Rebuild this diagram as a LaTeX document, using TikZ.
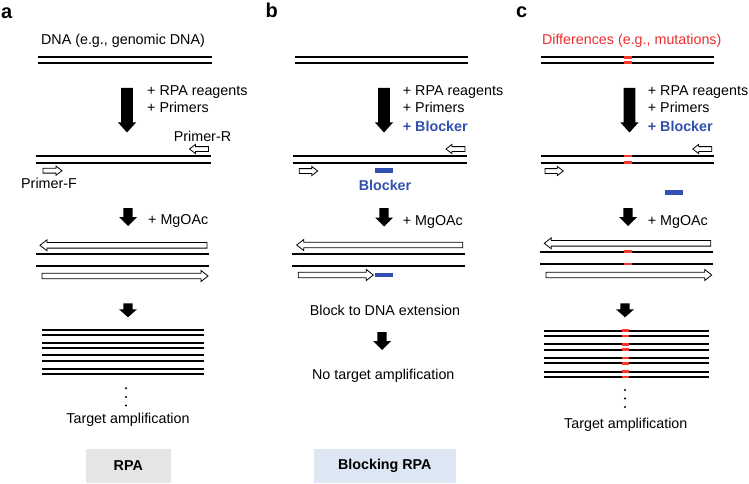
\documentclass[tikz,border=0pt]{standalone}
\usepackage{fontspec}
\setmainfont{Liberation Sans}
\definecolor{blockblue}{RGB}{50,80,176}
\definecolor{mutred}{RGB}{250,55,45}
\definecolor{txtred}{RGB}{236,45,45}
\definecolor{rpagray}{RGB}{229,229,229}
\definecolor{bluebox}{RGB}{220,231,243}
\newcommand{\myDnaPair}[4]{\draw[dna] (#1,#3) -- (#2,#3); \draw[dna] (#1,#4) -- (#2,#4);}
\newcommand{\myMut}[3]{\draw[mut] (#1,#3) -- (#2,#3);}
\newcommand{\myFatDown}[6]{\fill[black] (#1-#4,#2) -- (#1+#4,#2) -- (#1+#4,#3-#6) -- (#1+#5,#3-#6) -- (#1,#3) -- (#1-#5,#3-#6) -- (#1-#4,#3-#6) -- cycle;}
\newcommand{\myOpenR}[6]{\draw[openarr] (#1,#3-#4) -- (#2-#6,#3-#4) -- (#2-#6,#3-#5) -- (#2,#3) -- (#2-#6,#3+#5) -- (#2-#6,#3+#4) -- (#1,#3+#4) -- cycle;}
\newcommand{\myOpenL}[6]{\draw[openarr] (#2,#3-#4) -- (#1+#6,#3-#4) -- (#1+#6,#3-#5) -- (#1,#3) -- (#1+#6,#3+#5) -- (#1+#6,#3+#4) -- (#2,#3+#4) -- cycle;}
\begin{document}
\begin{tikzpicture}[x=1pt,y=-1pt,
  every node/.style={inner sep=0pt, font=\fontsize{14.3}{16}\selectfont},
  dna/.style={line width=2pt, black},
  mut/.style={line width=2.6pt, mutred},
  openarr/.style={draw=black, fill=white, line width=0.8pt, line join=miter},
  panellabel/.style={font=\fontsize{20}{22}\selectfont\bfseries, anchor=base west},
  steptext/.style={anchor=base west},
  bluebold/.style={text=blockblue, font=\fontsize{14.3}{16}\selectfont\bfseries},
  blockbar/.style={fill=blockblue, draw=none},
  methodbox/.style={draw=none, minimum height=34pt, font=\fontsize{14.3}{16}\selectfont\bfseries}]
\useasboundingbox (0,0) rectangle (749,484);

% ---------------- panel a ----------------
\node[panellabel] (la) at (1,18.5) {a};
\node[anchor=base] (dnaA) at (123,45) {DNA (e.g., genomic DNA)};
\myDnaPair{38}{212}{57.3}{62.7}
\myFatDown{127}{88}{132.5}{5.8}{9}{10}
\node[steptext] (a1) at (147,95.7) {+ RPA reagents};
\node[steptext] (a2) at (147,112.7) {+ Primers};
\node[anchor=base] (primR) at (202.5,141) {Primer-R};
\myOpenL{189.5}{208.5}{149}{2.4}{4.6}{6}
\myDnaPair{36}{210.7}{156}{162.7}
\myOpenR{43}{62}{170.7}{2.4}{4.6}{6}
\node[anchor=base] (primF) at (49,188) {Primer-F};
\myFatDown{128}{208}{226}{4.6}{9}{9}
\node[steptext] (a3) at (148,224) {+ MgOAc};
\myOpenL{40}{207}{245.3}{2.8}{5.5}{7}
\myDnaPair{36}{209}{254}{266}
\myOpenR{42}{208}{276}{2.8}{5.5}{7}
\myFatDown{128}{303.3}{317.3}{4.6}{9}{8}
\foreach \yy in {330,342.7,355.3,368.7}{\myDnaPair{41.7}{204}{\yy}{\yy+5.3}}
\foreach \yy in {388.3,396.9,405.5}{\fill (126,\yy) circle (1.1);}
\node[anchor=base] (ampA) at (128,423.5) {Target amplification};
\node[methodbox, fill=rpagray, minimum width=84.7pt] (rpa) at (128.3,465.5) {RPA};

% ---------------- panel b ----------------
\node[panellabel] (lb) at (265.5,17.5) {b};
\myDnaPair{295}{468.3}{57.3}{62.7}
\myFatDown{384}{88}{132.5}{5.8}{9}{10}
\node[steptext] (b1) at (402.7,95.7) {+ RPA reagents};
\node[steptext] (b2) at (402.7,112.7) {+ Primers};
\node[steptext, bluebold] (b3) at (402.7,131.5) {+ Blocker};
\myOpenL{446}{465}{149}{2.4}{4.6}{6}
\myDnaPair{292.7}{466.7}{156}{162.7}
\myOpenR{299.3}{317.7}{171}{2.4}{4.6}{6}
\fill[blockbar] (375,168.3) rectangle (393.3,173);
\node[anchor=base, bluebold] (blk) at (385,190) {Blocker};
\myFatDown{384}{208}{226.5}{4.6}{9}{9}
\node[steptext] (b4) at (402.7,225) {+ MgOAc};
\myOpenL{296.7}{462.7}{245}{2.8}{5.5}{7}
\myDnaPair{291.7}{465}{254}{266}
\myOpenR{298.3}{373.3}{275}{2.8}{5.5}{7}
\fill[blockbar] (375,272.7) rectangle (393.3,277.3);
\node[anchor=base] (blkext) at (385,315) {Block to DNA extension};
\myFatDown{382}{332}{350}{4.6}{9}{9}
\node[anchor=base] (noamp) at (383.3,379) {No target amplification};
\node[methodbox, fill=bluebox, minimum width=141.7pt] (brpa) at (384.8,466.2) {Blocking RPA};

% ---------------- panel c ----------------
\node[panellabel] (lc) at (516,18) {c};
\node[anchor=base, text=txtred] (diff) at (631.7,45) {Differences (e.g., mutations)};
\myDnaPair{540.7}{714}{57.3}{62.7}
\myMut{624}{632.3}{57.3}\myMut{624}{632.3}{62.7}
\myFatDown{629.5}{88}{132.5}{5.8}{9}{10}
\node[steptext] (c1) at (647.7,95.7) {+ RPA reagents};
\node[steptext] (c2) at (647.7,112.7) {+ Primers};
\node[steptext, bluebold] (c3) at (647.7,131.5) {+ Blocker};
\myOpenL{692.7}{711.7}{149}{2.4}{4.6}{6}
\myDnaPair{540.7}{714}{156}{162.7}
\myMut{624}{632.3}{156}\myMut{624}{632.3}{162.7}
\myOpenR{545}{563.3}{171}{2.4}{4.6}{6}
\fill[blockbar] (665,190.3) rectangle (682.7,195);
\myFatDown{628}{208}{226}{4.6}{9}{9}
\node[steptext] (c4) at (647.7,225) {+ MgOAc};
\myOpenL{544.3}{710.7}{243.3}{2.8}{5.5}{7}
\myDnaPair{540}{713.3}{251.7}{264}
\myMut{624}{631.7}{251.7}\myMut{624}{631.7}{264}
\myOpenR{546}{711.7}{275}{2.8}{5.5}{7}
\myFatDown{625}{303.3}{317.3}{4.6}{9}{8}
\foreach \yy in {330.7,344.3,358,371.7}{\myDnaPair{544.3}{709}{\yy}{\yy+5.4}\myMut{621.7}{629.3}{\yy}\myMut{621.7}{629.3}{\yy+5.4}}
\foreach \yy in {390,398.5,407}{\fill (625,\yy) circle (1.1);}
\node[anchor=base] (ampC) at (625.8,428.3) {Target amplification};
\end{tikzpicture}
\end{document}
